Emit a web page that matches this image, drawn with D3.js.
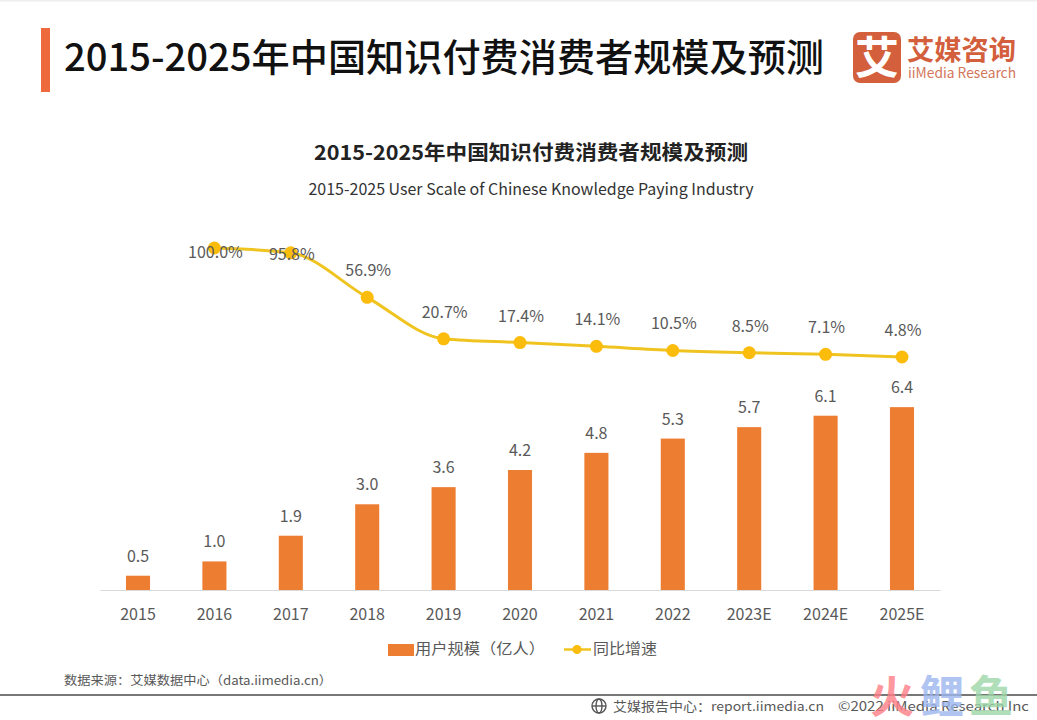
<!DOCTYPE html>
<html>
<head>
<meta charset="utf-8">
<script src="https://cdn.jsdelivr.net/npm/d3@7"></script>
<style>
  html, body { margin: 0; padding: 0; background: #fff; overflow: hidden; }
  text { font-family: "Noto Sans CJK SC", "Noto Sans", sans-serif; }
</style>
</head>
<body>
<svg id="chart" width="1037" height="720"></svg>
<script>
// values
const years = ["2015", "2016", "2017", "2018", "2019", "2020", "2021", "2022", "2023E", "2024E", "2025E"];
const users = [0.5, 1.0, 1.9, 3.0, 3.6, 4.2, 4.8, 5.3, 5.7, 6.1, 6.4];
const growth = [null, 100.0, 95.8, 56.9, 20.7, 17.4, 14.1, 10.5, 8.5, 7.1, 4.8];

const titleText = "2015-2025年中国知识付费消费者规模及预测";
const subtitleText = "2015-2025 User Scale of Chinese Knowledge Paying Industry";
const barName = "用户规模（亿人）";
const lineName = "同比增速";
const sourceText = "数据来源：艾媒数据中心（data.iimedia.cn）";

const orange = "#ed7d31";
const yellow = "#f0c420";
const dot = "#fcbc0c";
const grey = "#595959";

const svg = d3.select("#chart");

function label(x, y, str, size, fill, anchor, weight, len) {
  const t = svg.append("text")
    .attr("x", x).attr("y", y)
    .attr("font-size", size)
    .attr("fill", fill)
    .attr("text-anchor", anchor || "start")
    .attr("font-weight", weight || 400)
    .text(str);
  if (len) t.attr("textLength", len).attr("lengthAdjust", "spacingAndGlyphs");
  return t;
}

// page header
svg.append("rect").attr("x", 0).attr("y", 0).attr("width", 1037).attr("height", 1.5).attr("fill", "#eeeeee");
svg.append("rect").attr("x", 41).attr("y", 28).attr("width", 9).attr("height", 64).attr("fill", "#ee6a3c");
label(64, 71, titleText, 38, "#111111", "start", 500, 760);

// logo
svg.append("rect").attr("x", 853).attr("y", 32).attr("width", 48).attr("height", 51).attr("rx", 7).attr("fill", "#d35f3c");
label(877, 74, "艾", 44, "#ffffff", "middle", 700);
label(907, 60, "艾媒咨询", 27, "#d35f3c", "start", 700, 109);
label(908, 78, "iiMedia Research", 14, "#d3765a", "start", 400, 108);

// chart titles
label(531, 160, titleText, 20, "#222222", "middle", 700, 434);
label(531, 195, subtitleText, 16, "#333333", "middle", 400, 445);

// scales
const x = d3.scaleBand().domain(years).range([100, 940]).paddingInner(0.685).paddingOuter(0.34);
const yBar = d3.scaleLinear().domain([0, 7]).range([590, 390]);
const yLine = d3.scaleLinear().domain([0, 100]).range([362.5, 248]);
const cx = d => x(d) + x.bandwidth() / 2;

// bars
svg.append("g").selectAll("rect").data(years).join("rect")
  .attr("x", d => x(d))
  .attr("y", (d, i) => yBar(users[i]))
  .attr("width", x.bandwidth())
  .attr("height", (d, i) => 590 - yBar(users[i]))
  .attr("fill", orange);

svg.append("g").selectAll("text").data(years).join("text")
  .attr("x", cx)
  .attr("y", (d, i) => yBar(users[i]) - 14)
  .attr("text-anchor", "middle")
  .attr("font-size", 16)
  .attr("fill", grey)
  .text((d, i) => users[i].toFixed(1));

// x axis
const axis = svg.append("g").attr("transform", "translate(0,590)")
  .call(d3.axisBottom(x).tickSize(0).tickPadding(19));
axis.select(".domain").attr("stroke", "#d9d9d9").attr("stroke-width", 1.2);
axis.selectAll("text").attr("font-size", 16).attr("fill", grey)
  .attr("font-family", '"Noto Sans CJK SC", sans-serif');

// growth line
const linePoints = years.map((d, i) => ({ year: d, rate: growth[i] })).filter(d => d.rate != null);
const line = d3.line().x(d => cx(d.year)).y(d => yLine(d.rate)).curve(d3.curveMonotoneX);

svg.append("path").datum(linePoints)
  .attr("d", line)
  .attr("fill", "none")
  .attr("stroke", yellow)
  .attr("stroke-width", 3);

svg.append("g").selectAll("circle").data(linePoints).join("circle")
  .attr("cx", d => cx(d.year))
  .attr("cy", d => yLine(d.rate))
  .attr("r", 6.5)
  .attr("fill", dot);

svg.append("g").selectAll("text").data(linePoints).join("text")
  .attr("x", d => cx(d.year) + 1)
  // the two top labels sit on the line in the source
  .attr("y", d => d.rate > 90 ? yLine(d.rate) + (d.rate === 100 ? 10 : 7) : yLine(d.rate) - 21)
  .attr("text-anchor", "middle")
  .attr("font-size", 16)
  .attr("fill", grey)
  .text(d => d.rate.toFixed(1) + "%");

// legend
svg.append("rect").attr("x", 388).attr("y", 644).attr("width", 26).attr("height", 12).attr("fill", orange);
label(415, 654, barName, 15, grey, "start", 400, 130);
svg.append("line").attr("x1", 564).attr("x2", 591).attr("y1", 649.5).attr("y2", 649.5).attr("stroke", yellow).attr("stroke-width", 2.5);
svg.append("circle").attr("cx", 577).attr("cy", 649.5).attr("r", 4.5).attr("fill", dot);
label(593, 654, lineName, 15, grey, "start", 400, 64);

// source and footer
label(64, 685, sourceText, 12.5, grey, "start", 400, 268);
svg.append("rect").attr("x", 0).attr("y", 694).attr("width", 1037).attr("height", 2).attr("fill", "#777777");

const icon = svg.append("g").attr("fill", "none").attr("stroke", "#555555").attr("stroke-width", 1.4);
icon.append("circle").attr("cx", 599).attr("cy", 706).attr("r", 7);
icon.append("ellipse").attr("cx", 599).attr("cy", 706).attr("rx", 3).attr("ry", 7);
icon.append("line").attr("x1", 592).attr("x2", 606).attr("y1", 706).attr("y2", 706);

label(613, 711, "艾媒报告中心：report.iimedia.cn", 13, grey, "start", 400, 211);
label(838, 711, "©2022  iiMedia Research  Inc", 13, grey, "start", 400, 191);

// watermark
label(870, 713, "火", 44, "#ff7f86", "start", 700).attr("opacity", 0.8);
label(920, 713, "鲤", 44, "#9db6ee", "start", 700).attr("opacity", 0.8);
label(969, 713, "鱼", 44, "#9dd6a8", "start", 700).attr("opacity", 0.8);
</script>
</body>
</html>
